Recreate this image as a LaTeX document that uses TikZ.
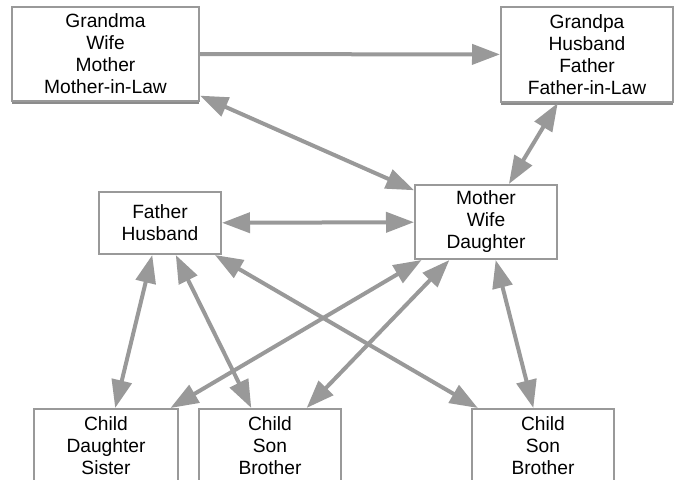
\documentclass[tikz,border=0pt]{standalone}
\usepackage{fontspec}
\setmainfont{Liberation Sans}
\usepackage{tikz}
\usetikzlibrary{arrows.meta,shadows}

\definecolor{boxgray}{HTML}{999999}
\definecolor{linkgray}{HTML}{999999}
\definecolor{shadegray}{HTML}{8C8C8C}

\tikzset{
	person/.style={draw=boxgray, line width=1pt, fill=white, rectangle, align=center,
		inner sep=0pt, font=\fontsize{9.6}{11}\selectfont},
	elder/.style={person, drop shadow={shadow xshift=0pt, shadow yshift=-1.6pt, fill=shadegray, opacity=1}},
	rel/.style={draw=linkgray, line width=2pt, >={Triangle[length=14pt,width=10pt]}}
}

\begin{document}
\begin{tikzpicture}[x=0.5pt,y=-0.5pt]
				\useasboundingbox (0,0) rectangle (675,480);
				
				% grandparents
				\node[elder, minimum width=93.5pt, minimum height=47pt] (grandma) at (105.5,54) {Grandma\\Wife\\Mother\\Mother-in-Law};
				\node[elder, minimum width=86pt, minimum height=47.5pt] (grandpa) at (587,54.5) {Grandpa\\Husband\\Father\\Father-in-Law};
				
				% parents
				\node[person, minimum width=61pt, minimum height=31pt] (father) at (160,223) {Father\\Husband};
				\node[person, minimum width=71pt, minimum height=37pt] (mother) at (486,222) {Mother\\Wife\\Daughter};
				
				% children
				\node[person, minimum width=72pt, minimum height=37pt] (child1) at (106,446) {Child\\Daughter\\Sister};
				\node[person, minimum width=71pt, minimum height=37pt] (child2) at (270,446) {Child\\Son\\Brother};
				\node[person, minimum width=71pt, minimum height=37pt] (child3) at (543,446) {Child\\Son\\Brother};
				
				\draw[rel,->] (grandma) -- (grandpa);
				\draw[rel,<->] (grandma) -- (mother);
				\draw[rel,<->] (grandpa) -- (mother);
				\draw[rel,<->] (father) -- (mother);
				
				\foreach \c in {child1,child2,child3}{
					\draw[rel,<->] (father) -- (\c);
					\draw[rel,<->] (mother) -- (\c);
				}
			\end{tikzpicture}
\end{document}
